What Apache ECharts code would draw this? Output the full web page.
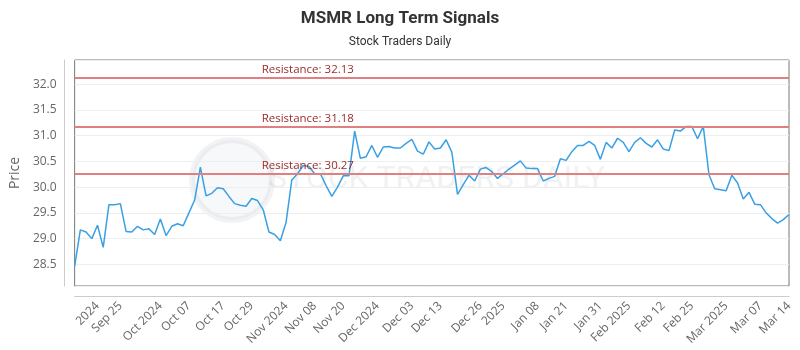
<!DOCTYPE html>
<html>
<head>
<meta charset="utf-8">
<script src="https://cdn.jsdelivr.net/npm/echarts@6/dist/echarts.min.js"></script>
<style>
  html, body { margin: 0; padding: 0; background: #fff; }
  #chart { width: 800px; height: 350px; }
</style>
</head>
<body>
<div id="chart"></div>
<script>
// closing prices, one per trading day
const prices = [
  28.46, 29.17, 29.13, 29.00, 29.26, 28.83, 29.66, 29.66, 29.68, 29.14,
  29.13, 29.24, 29.17, 29.19, 29.08, 29.38, 29.06, 29.24, 29.29, 29.25,
  29.50, 29.75, 30.39, 29.83, 29.88, 29.99, 29.97, 29.82, 29.68, 29.65,
  29.63, 29.78, 29.74, 29.56, 29.13, 29.08, 28.96, 29.32, 30.14, 30.26,
  30.42, 30.40, 30.26, 30.26, 30.03, 29.82, 30.00, 30.22, 30.22, 31.09,
  30.56, 30.59, 30.81, 30.58, 30.78, 30.79, 30.76, 30.76, 30.85, 30.93,
  30.70, 30.64, 30.88, 30.74, 30.76, 30.92, 30.68, 29.86, 30.05, 30.23,
  30.12, 30.35, 30.38, 30.30, 30.17, 30.26, 30.35, 30.43, 30.51, 30.37,
  30.36, 30.36, 30.12, 30.17, 30.21, 30.55, 30.52, 30.69, 30.81, 30.81,
  30.89, 30.81, 30.54, 30.87, 30.76, 30.95, 30.87, 30.69, 30.87, 30.96,
  30.85, 30.78, 30.92, 30.74, 30.71, 31.11, 31.09, 31.18, 31.18, 30.94,
  31.18, 30.24, 29.97, 29.95, 29.93, 30.23, 30.08, 29.77, 29.90, 29.67,
  29.66, 29.50, 29.39, 29.30, 29.37, 29.47
];

const tickLabels = ['2024', 'Sep 25', 'Oct 2024', 'Oct 07', 'Oct 17', 'Oct 29', 'Nov 2024', 'Nov 08',
  'Nov 20', 'Dec 2024', 'Dec 03', 'Dec 13', 'Dec 26', '2025', 'Jan 08', 'Jan 21', 'Jan 31',
  'Feb 2025', 'Feb 12', 'Feb 25', 'Mar 2025', 'Mar 07', 'Mar 14'];
const tickAt = [4, 8, 15, 20, 26, 31, 37, 42, 47, 53, 59, 64, 71, 75, 81, 86, 92, 97, 103, 108, 114, 120, 125];

const resistance = [32.13, 31.18, 30.27];

const chart = echarts.init(document.getElementById('chart'));

const option = {
  animation: false,
  backgroundColor: '#fff',
  title: {
    text: 'MSMR Long Term Signals',
    subtext: 'Stock Traders Daily',
    left: 'center',
    top: 5,
    itemGap: 9,
    textStyle: { fontFamily: 'Roboto', fontWeight: 'bold', fontSize: 17, color: '#333' },
    subtextStyle: { fontFamily: 'Roboto', fontSize: 12, color: '#333' }
  },
  graphic: [
    {
      type: 'circle', silent: true, z: 0,
      shape: { cx: 232, cy: 180, r: 40 },
      style: { fill: 'rgba(190,200,210,0.12)', stroke: 'rgba(150,160,170,0.12)', lineWidth: 6 }
    },
    {
      type: 'text', silent: true, z: 0,
      left: 268, top: 164,
      style: { text: 'STOCK TRADERS DAILY', font: '32px Roboto', fill: 'rgba(120,130,140,0.11)' }
    }
  ],
  grid: {
    left: 71, right: 11, top: 60, bottom: 64,
    show: true, borderColor: '#777', borderWidth: 1
  },
  xAxis: {
    type: 'category',
    data: prices.map((_, i) => i),
    boundaryGap: false,
    offset: 10,
    axisLine: { lineStyle: { color: '#ccc' } },
    axisTick: { show: false },
    axisLabel: {
      rotate: 45,
      margin: 8,
      fontFamily: 'Open Sans',
      fontSize: 12,
      color: '#666',
      interval: (i) => tickAt.includes(i),
      formatter: (v, i) => tickLabels[tickAt.indexOf(i)] || ''
    },
    splitLine: { show: false }
  },
  yAxis: {
    type: 'value',
    min: 28.08,
    max: 32.47,
    splitNumber: 9,
    offset: 10,
    name: 'Price',
    nameLocation: 'middle',
    nameGap: 36,
    nameTextStyle: { fontFamily: 'Open Sans', fontSize: 14, color: '#666' },
    axisLine: { show: true, lineStyle: { color: '#ccc' } },
    axisTick: { show: false },
    axisLabel: {
      fontFamily: 'Open Sans',
      fontSize: 12,
      color: '#666',
      margin: 8,
      formatter: (v) => (Math.abs(v * 2 - Math.round(v * 2)) < 1e-6 ? v.toFixed(1) : '')
    },
    splitLine: { lineStyle: { color: '#eee' } }
  },
  series: [
    {
      type: 'line',
      data: prices,
      showSymbol: false,
      z: 3,
      lineStyle: { color: '#39a0e5', width: 1.5 },
      markLine: {
        silent: true,
        symbol: 'none',
        lineStyle: { color: '#e08080', width: 2, type: 'solid' },
        label: {
          position: 'insideStartTop',
          distance: [187, 2],
          fontFamily: 'Open Sans',
          fontSize: 11.5,
          color: '#9b2c2c',
          formatter: (p) => 'Resistance: ' + p.value
        },
        data: resistance.map((r) => ({ yAxis: r }))
      }
    }
  ]
};

chart.setOption(option);
</script>
</body>
</html>
